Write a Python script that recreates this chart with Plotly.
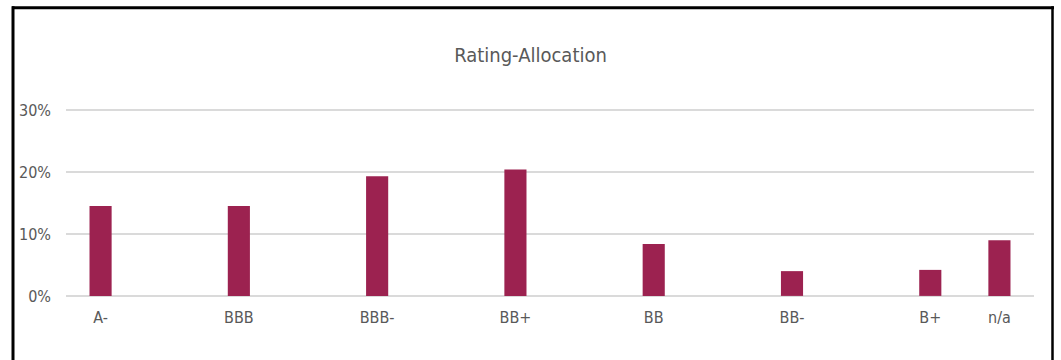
import plotly.graph_objects as go

# Data (blank slots are empty category positions in the original chart)
categories = ["A-", " ", "BBB", "  ", "BBB-", "   ", "BB+", "    ", "BB", "     ", "BB-", "      ", "B+", "n/a"]
values = [14.5, None, 14.5, None, 19.3, None, 20.4, None, 8.4, None, 4.0, None, 4.2, 9.0]
y_ticks = [0, 10, 20, 30]
y_tick_labels = ["0%", "10%", "20%", "30%"]
y_range = [-0.5, 30.5]

W, H = 1061, 360
L, R = 66, 1034          # plot area left/right pixels
Y0, Y30 = 296, 110       # pixel rows of the 0% and 30% gridlines
ppu = (Y0 - Y30) / 30.0  # pixels per percentage point
T = Y30 - (y_range[1] - 30) * ppu
B = Y0 + (0 - y_range[0]) * ppu

def px_x(p):
    return (p - L) / (R - L)

def px_y(p):
    return (B - p) / (B - T)

font_family = "DejaVu Sans Condensed, Liberation Sans, sans-serif"
grey = "#595959"

fig = go.Figure(
    go.Bar(
        x=categories,
        y=values,
        marker=dict(color="#9C2250", line=dict(width=0)),
        hoverinfo="x+y",
    )
)

fig.update_layout(
    width=W,
    height=H,
    margin=dict(l=L, r=W - R, t=T, b=H - B, pad=0),
    paper_bgcolor="white",
    plot_bgcolor="white",
    bargap=0.68,
    showlegend=False,
    title=dict(
        text="Rating-Allocation",
        x=0.5,
        xanchor="center",
        y=1 - 55 / H,
        yanchor="middle",
        font=dict(family=font_family, size=20, color=grey),
    ),
    font=dict(family=font_family, size=16, color=grey),
    xaxis=dict(
        type="category",
        categoryorder="array",
        categoryarray=categories,
        showgrid=False,
        showline=False,
        zeroline=False,
        ticks="",
        ticklabelstandoff=7,
        tickfont=dict(family=font_family, size=16, color=grey),
        fixedrange=True,
    ),
    yaxis=dict(
        range=y_range,
        tickvals=y_ticks,
        ticktext=y_tick_labels,
        showgrid=True,
        gridcolor="#DADADA",
        gridwidth=2,
        zeroline=True,
        zerolinecolor="#DADADA",
        zerolinewidth=2,
        showline=False,
        ticks="",
        ticklabelstandoff=14,
        tickfont=dict(family=font_family, size=16, color=grey),
        fixedrange=True,
    ),
    shapes=[
        dict(type="line", xref="paper", yref="paper",
             x0=px_x(12), x1=px_x(1054), y0=px_y(7.5), y1=px_y(7.5),
             line=dict(color="black", width=3)),
        dict(type="line", xref="paper", yref="paper",
             x0=px_x(13), x1=px_x(13), y0=px_y(6), y1=px_y(370),
             line=dict(color="black", width=3)),
        dict(type="line", xref="paper", yref="paper",
             x0=px_x(1052.5), x1=px_x(1052.5), y0=px_y(6), y1=px_y(370),
             line=dict(color="black", width=2.5)),
    ],
)

fig.write_html("out.html")
